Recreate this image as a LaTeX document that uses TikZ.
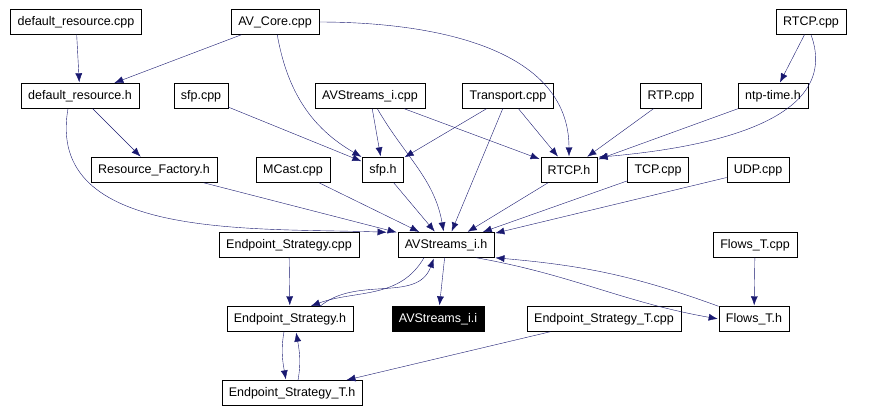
\documentclass[tikz,border=0pt]{standalone}
\usepackage{fontspec}
\setmainfont{Liberation Sans}
\usetikzlibrary{arrows.meta, positioning}

\definecolor{midnightblue}{RGB}{25,25,112}
\tikzset{
  file/.style={draw, fill=white, minimum height=25pt, inner xsep=7pt, font=\fontsize{12.5}{14}\selectfont},
  cur/.style={file, fill=black, text=white},
  dep/.style={draw=midnightblue, -{Latex[length=9pt,width=7pt]}, shorten >=1pt},
}

\begin{document}
\begin{tikzpicture}[x=1pt, y=-1pt]
    \useasboundingbox (0,0) rectangle (869,413);
        \node[file] (drc) at (76,22) {default\_resource.cpp};
        \node[file] (avc) at (275,22) {AV\_Core.cpp};
        \node[file] (rtcpc) at (811,22) {RTCP.cpp};
        \node[file] (drh) at (80,96) {default\_resource.h};
        \node[file] (sfpc) at (201,96) {sfp.cpp};
        \node[file] (avic) at (370,96) {AVStreams\_i.cpp};
        \node[file] (trc) at (508,96) {Transport.cpp};
        \node[file] (rtpc) at (671,96) {RTP.cpp};
        \node[file] (ntph) at (773,96) {ntp-time.h};
        \node[file] (rfh) at (154,170) {Resource\_Factory.h};
        \node[file] (mcc) at (293,170) {MCast.cpp};
        \node[file] (sfph) at (383,170) {sfp.h};
        \node[file] (rtcph) at (569,170) {RTCP.h};
        \node[file] (tcpc) at (658,170) {TCP.cpp};
        \node[file] (udpc) at (758,170) {UDP.cpp};
        \node[file] (esc) at (289,245) {Endpoint\_Strategy.cpp};
        \node[file] (avih) at (446,245) {AVStreams\_i.h};
        \node[file] (ftc) at (755,245) {Flows\_T.cpp};
        \node[file] (esh) at (290,319) {Endpoint\_Strategy.h};
        \node[cur] (avii) at (438,319) {AVStreams\_i.i};
        \node[file] (estc) at (604,319) {Endpoint\_Strategy\_T.cpp};
        \node[file] (fth) at (754,319) {Flows\_T.h};
        \node[file] (esth) at (292,393) {Endpoint\_Strategy\_T.h};

        % first rows
        \draw[dep] (drc) -- (drh);
        \draw[dep] (avc) -- (drh);
        \draw[dep] (avc) to[out=-80, in=150] (sfph.north west);
        \draw[dep] (avc.east) to[out=0, in=90] (rtcph.north);
        \draw[dep] (rtcpc) -- (ntph);
        \draw[dep] (rtcpc.south) to[out=-70, in=5] (rtcph.north east);
        \draw[dep] (drh) -- (rfh);
        \draw[dep] ([xshift=-12pt]drh.south) to[out=-100, in=178] ([xshift=-10pt]avih.north west);
        \draw[dep] (sfpc) -- (sfph);
        \draw[dep] (avic) -- (sfph);
        \draw[dep] (avic) to[out=-60, in=100] (avih);
        \draw[dep] (avic) -- (rtcph);
        \draw[dep] (trc) -- (sfph);
        \draw[dep] (trc) -- (avih);
        \draw[dep] (trc) -- (rtcph);
        \draw[dep] (rtpc) -- (rtcph);
        \draw[dep] (ntph) -- (rtcph);
        % into AVStreams_i.h
        \draw[dep] (rfh) -- (avih);
        \draw[dep] (mcc) -- (avih);
        \draw[dep] (sfph) -- (avih);
        \draw[dep] (rtcph) -- (avih);
        \draw[dep] (tcpc) -- (avih);
        \draw[dep] (udpc) -- (avih);
        % lower rows
        \draw[dep] (esc) -- (esh);
        \draw[dep] ([xshift=-22pt]avih.south) to[out=-120, in=20] ([xshift=20pt]esh.north);
        \draw[dep] ([xshift=30pt]esh.north) to[out=40, in=-110] ([xshift=-12pt]avih.south);
        \draw[dep] (avih) -- (avii);
        \draw[dep] ([xshift=30pt]avih.south) to[out=-10, in=170] (fth.west);
        \draw[dep] (fth.north west) to[out=160, in=-5] (avih.south east);
        \draw[dep] (ftc) -- (fth);
        \draw[dep] (estc) -- (esth);
        \draw[dep] ([xshift=-6pt]esh.south) to[out=-100, in=100] ([xshift=-6pt]esth.north);
        \draw[dep] ([xshift=6pt]esth.north) to[out=80, in=-80] ([xshift=6pt]esh.south);
\end{tikzpicture}
\end{document}
